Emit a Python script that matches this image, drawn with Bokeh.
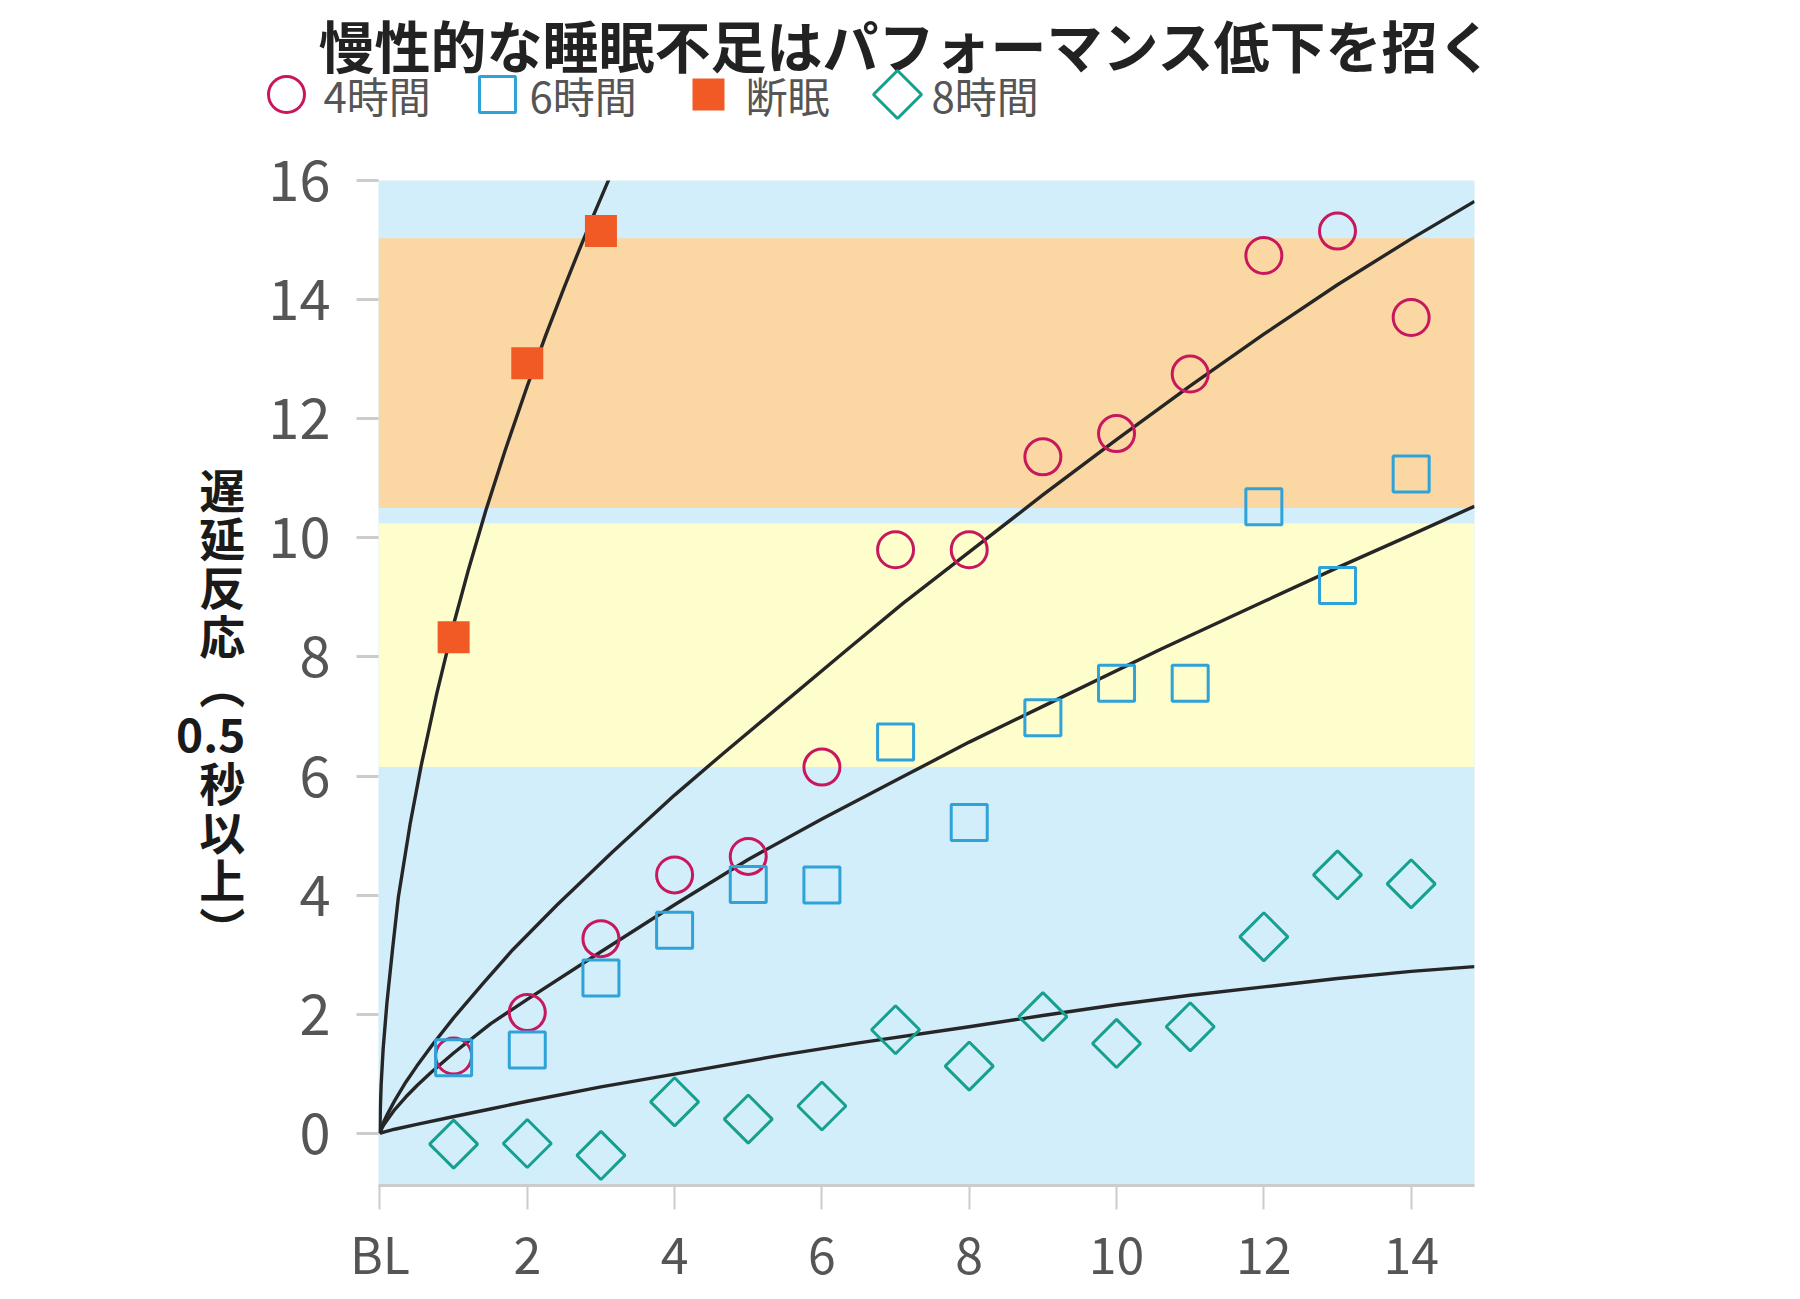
import numpy as np
from bokeh.plotting import figure
from bokeh.layouts import column
from bokeh.models import Range1d, FixedTicker, BoxAnnotation
from bokeh.core.properties import value
from bokeh.embed import file_html
from bokeh.resources import INLINE

# ---------------- data ----------------
TITLE = "慢性的な睡眠不足はパフォーマンス低下を招く"
Y_LABEL = " \n遅\n延\n反\n応\n︵\n0.5\n秒\n以\n上\n︶"

series_names = ["4時間", "6時間", "断眠", "8時間"]

days = [1, 2, 3, 4, 5, 6, 7, 8, 9, 10, 11, 12, 13, 14]
sd_days = [1, 2, 3]

lapses_4h = [1.30, 2.03, 3.27, 4.34, 4.65, 6.15, 9.80, 9.80, 11.36, 11.75, 12.75, 14.74, 15.15, 13.70]
lapses_6h = [1.27, 1.40, 2.61, 3.41, 4.18, 4.17, 6.57, 5.22, 6.98, 7.56, 7.56, 10.52, 9.20, 11.07]
lapses_8h = [-0.18, -0.17, -0.37, 0.53, 0.24, 0.46, 1.74, 1.13, 1.96, 1.51, 1.79, 3.30, 4.34, 4.19]
lapses_sd = [8.33, 12.93, 15.15]

# fitted curves, points
fit_sd_x = [0, 0.005, 0.016, 0.043, 0.095, 0.173, 0.25, 0.41, 0.56, 0.77, 1.0, 1.2, 1.44,
            1.7, 2.0, 2.25, 2.5, 2.7, 2.89, 3.17]
fit_sd_y = [0, 0.42, 0.82, 1.42, 2.2, 3.12, 3.97, 5.2, 6.18, 7.38, 8.55, 9.46, 10.47,
            11.47, 12.55, 13.4, 14.2, 14.82, 15.39, 16.2]

fit_4h_x = [0, 0.02, 0.05, 0.1, 0.2, 0.35, 0.5, 0.72, 1.0, 1.4, 1.8, 2.4, 3.16, 4.0, 4.66,
            5.5, 6.3, 7.1, 8.02, 9, 10, 11, 12, 13, 14, 14.86]
fit_4h_y = [0, 0.09, 0.19, 0.32, 0.55, 0.86, 1.13, 1.5, 1.94, 2.52, 3.08, 3.83, 4.73, 5.68,
            6.38, 7.25, 8.08, 8.9, 9.78, 10.72, 11.65, 12.55, 13.42, 14.25, 15.02, 15.65]

fit_6h_x = [0, 0.02, 0.05, 0.1, 0.2, 0.35, 0.5, 0.7, 1.0, 1.5, 2.0, 3.0, 4.0, 5.0, 6.0,
            7.07, 8.0, 9.0, 10.6, 12.0, 13.0, 14.0, 14.86]
fit_6h_y = [0, 0.07, 0.14, 0.23, 0.4, 0.61, 0.8, 1.03, 1.35, 1.84, 2.25, 3.05, 3.84, 4.6,
            5.28, 5.97, 6.57, 7.17, 8.13, 8.93, 9.5, 10.05, 10.53]

fit_8h_x = [0, 0.05, 0.2, 0.5, 0.99, 1.5, 2.0, 3.0, 3.98, 5.43, 6.5, 8.0, 9.0, 10.0, 11.0,
            12.0, 13.0, 14.0, 14.86]
fit_8h_y = [0, 0.02, 0.07, 0.15, 0.28, 0.41, 0.54, 0.78, 0.99, 1.31, 1.52, 1.79, 1.98, 2.16,
            2.32, 2.46, 2.6, 2.72, 2.8]

x_ticks = [0, 2, 4, 6, 8, 10, 12, 14]
x_tick_labels = ["BL", "2", "4", "6", "8", "10", "12", "14"]
y_ticks = [0, 2, 4, 6, 8, 10, 12, 14, 16]

band_bottoms = [6.15, 10.5]
band_tops = [10.24, 15.03]

# ---------------- style / layout ----------------
C_4H = "#c8185d"
C_6H = "#2fa3d8"
C_SD = "#f15a24"
C_8H = "#16a08f"
C_BG = "#d2eefa"
band_colors = ["#fefdcc", "#fbd7a3"]
C_FIT = "#262626"
FONT = "Noto Sans CJK JP"

W = 1780
HEAD_H = 130
MAIN_H = 1160
TOP, BOTTOM, LEFT, RIGHT = 50, 92, 378, 306

# legend layout (header canvas pixels)
legend_marker_x = [286, 497, 708, 897]
legend_text_x = [323, 529, 745, 931]
legend_y = 36
title_x = 906

marker_styles = [
    dict(marker="circle", size=36, fill_color=None, line_color=C_4H, line_width=3, angle=0),
    dict(marker="square", size=36, fill_color=None, line_color=C_6H, line_width=3, angle=0),
    dict(marker="square", size=32, fill_color=C_SD, line_color=None, line_width=0, angle=0),
    dict(marker="square", size=34, fill_color=None, line_color=C_8H, line_width=3, angle=np.pi / 4),
]

# ---------------- header: title + legend ----------------
head = figure(width=W, height=HEAD_H, output_backend="svg", toolbar_location=None,
              x_range=Range1d(0, W), y_range=Range1d(0, HEAD_H),
              x_axis_location=None, y_axis_location=None, min_border=0)
head.frame_align = False
head.outline_line_color = None
head.background_fill_color = "white"
head.border_fill_color = "white"
head.xgrid.grid_line_color = None
head.ygrid.grid_line_color = None

head.text(x=[title_x], y=[HEAD_H - 2], text=[TITLE], text_font=value(FONT),
          text_font_size="56px", text_font_style="bold", text_color="#222222",
          text_align="center", text_baseline="top")

for mx, st in zip(legend_marker_x, marker_styles):
    head.scatter([mx], [legend_y], **st)
head.text(x=legend_text_x, y=[legend_y] * len(series_names), text=series_names,
          text_font=value(FONT), text_font_size="42px", text_color="#555555",
          text_align="left", text_baseline="middle")

# ---------------- main chart ----------------
p = figure(width=W, height=MAIN_H, output_backend="svg", toolbar_location=None,
           x_range=Range1d(-0.02, 14.86), y_range=Range1d(-0.875, 16.0),
           min_border_left=LEFT, min_border_right=RIGHT,
           min_border_top=TOP, min_border_bottom=BOTTOM)
p.frame_align = False
p.background_fill_color = C_BG
p.border_fill_color = "white"
p.outline_line_color = None
p.xgrid.grid_line_color = None
p.ygrid.grid_line_color = None

for b, t, c in zip(band_bottoms, band_tops, band_colors):
    p.add_layout(BoxAnnotation(bottom=b, top=t, fill_color=c, fill_alpha=1.0,
                               line_alpha=0, level="underlay"))

for fx, fy in [(fit_sd_x, fit_sd_y), (fit_4h_x, fit_4h_y), (fit_6h_x, fit_6h_y), (fit_8h_x, fit_8h_y)]:
    p.line(fx, fy, line_color=C_FIT, line_width=3.4, line_join="round")

for xs, ys, st in zip([days, days, sd_days, days],
                      [lapses_4h, lapses_6h, lapses_sd, lapses_8h],
                      marker_styles):
    p.scatter(xs, ys, **st)

# axes
xa = p.xaxis[0]
xa.ticker = FixedTicker(ticks=x_ticks)
xa.major_label_overrides = {t: l for t, l in zip(x_ticks, x_tick_labels)}
xa.axis_line_color = "#cccccc"
xa.axis_line_width = 3
xa.major_tick_line_color = "#cccccc"
xa.major_tick_line_width = 2
xa.major_tick_out = 24
xa.major_tick_in = 0
xa.minor_tick_line_color = None
xa.major_label_text_font = FONT
xa.major_label_text_font_size = "50px"
xa.major_label_text_color = "#555555"
xa.major_label_standoff = 6

ya = p.yaxis[0]
ya.ticker = FixedTicker(ticks=y_ticks)
ya.axis_line_color = None
ya.major_tick_line_color = "#cccccc"
ya.major_tick_line_width = 3
ya.major_tick_out = 22
ya.major_tick_in = 0
ya.minor_tick_line_color = None
ya.major_label_text_font = FONT
ya.major_label_text_font_size = "56px"
ya.major_label_text_color = "#555555"
ya.major_label_standoff = 26

# vertical (stacked, upright) y-axis title
ya.axis_label = Y_LABEL
ya.axis_label_text_font = FONT
ya.axis_label_text_font_size = "46px"
ya.axis_label_text_font_style = "bold"
ya.axis_label_text_color = "#1a1a1a"
ya.axis_label_text_line_height = 0.74
ya.axis_label_standoff = 20
ya.axis_label_orientation = "horizontal"

layout = column(head, p, spacing=0)
open("out.html", "w").write(file_html(layout, INLINE))
